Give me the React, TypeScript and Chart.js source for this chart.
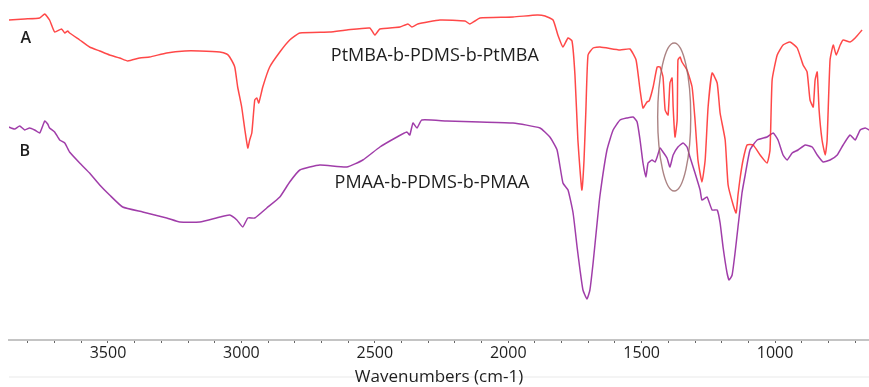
import React, { useEffect, useRef } from "react";
import { Chart, registerables } from "chart.js";

Chart.register(...registerables);

// Wavenumbers (cm-1) and transmittance (arbitrary units) for spectrum A
const waveA = [3872, 3812, 3756, 3737, 3719, 3700, 3674, 3662, 3651, 3644, 3606, 3569, 3531, 3494, 3456, 3426, 3381, 3344, 3280, 3212, 3156, 3081, 3055, 3044, 3025, 3014, 2999, 2987, 2976, 2969, 2961, 2950, 2942, 2935, 2920, 2894, 2856, 2819, 2781, 2669, 2605, 2519, 2500, 2481, 2406, 2376, 2361, 2339, 2256, 2162, 2144, 2125, 2106, 1982, 1892, 1862, 1832, 1814, 1795, 1776, 1761, 1750, 1739, 1731, 1724, 1716, 1709, 1701, 1682, 1656, 1581, 1544, 1521, 1506, 1495, 1480, 1472, 1457, 1442, 1431, 1420, 1412, 1401, 1394, 1386, 1382, 1375, 1367, 1364, 1356, 1349, 1330, 1311, 1300, 1289, 1274, 1262, 1251, 1236, 1217, 1206, 1187, 1176, 1157, 1146, 1139, 1131, 1120, 1105, 1082, 1056, 1030, 1019, 1011, 992, 970, 944, 917, 895, 880, 869, 857, 850, 842, 835, 824, 812, 805, 794, 782, 771, 756, 745, 719, 700, 674, 651];
const transA = [320, 321, 322, 326, 320, 308, 311, 307, 309, 307, 300, 293, 289, 285, 282, 279, 282, 283, 287, 289, 289, 288, 286, 283, 273, 253, 233, 210, 192, 200, 207, 240, 242, 237, 253, 273, 288, 300, 307, 308, 310, 312, 305, 311, 313, 316, 313, 316, 320, 319, 316, 319, 322, 323, 325, 324, 320, 305, 293, 302, 299, 265, 200, 170, 150, 180, 230, 285, 292, 293, 290, 291, 280, 250, 232, 238, 239, 253, 273, 273, 263, 230, 225, 257, 262, 233, 203, 220, 280, 283, 278, 270, 253, 220, 180, 158, 180, 233, 267, 257, 227, 200, 155, 135, 127, 145, 162, 180, 195, 195, 185, 177, 190, 260, 285, 295, 298, 292, 275, 268, 240, 233, 260, 268, 230, 200, 185, 200, 280, 295, 285, 295, 300, 298, 302, 310];

// Spectrum B
const waveB = [3872, 3850, 3831, 3812, 3794, 3775, 3756, 3737, 3726, 3719, 3700, 3681, 3662, 3644, 3606, 3569, 3531, 3494, 3445, 3370, 3280, 3231, 3156, 3081, 3044, 3017, 2995, 2976, 2950, 2905, 2856, 2819, 2781, 2706, 2605, 2545, 2481, 2417, 2380, 2369, 2357, 2342, 2324, 2230, 2106, 1982, 1881, 1844, 1817, 1795, 1776, 1757, 1742, 1731, 1720, 1705, 1694, 1682, 1667, 1656, 1630, 1607, 1581, 1555, 1532, 1517, 1506, 1495, 1484, 1476, 1461, 1450, 1442, 1431, 1420, 1405, 1394, 1382, 1364, 1345, 1330, 1319, 1300, 1281, 1274, 1255, 1236, 1217, 1206, 1195, 1180, 1172, 1161, 1150, 1139, 1124, 1112, 1094, 1067, 1030, 1007, 989, 970, 955, 936, 914, 887, 861, 842, 820, 794, 767, 745, 719, 700, 681, 662, 647];
const transB = [213, 211, 214, 210, 212, 210, 207, 219, 216, 212, 208, 200, 197, 188, 177, 167, 155, 145, 133, 128, 122, 118, 118, 123, 125, 120, 113, 122, 122, 132, 143, 158, 170, 175, 173, 180, 193, 203, 208, 205, 217, 212, 220, 219, 218, 217, 212, 203, 190, 157, 150, 127, 93, 70, 50, 41, 50, 77, 117, 145, 190, 210, 220, 222, 223, 218, 200, 177, 163, 177, 180, 178, 183, 192, 188, 182, 173, 185, 193, 197, 193, 183, 167, 150, 140, 143, 130, 130, 117, 93, 67, 60, 65, 87, 113, 147, 165, 190, 200, 203, 207, 200, 185, 180, 187, 190, 195, 193, 185, 178, 180, 185, 195, 205, 200, 210, 212, 210];

const xTickLabels = [3500, 3000, 2500, 2000, 1500, 1000];
const labelA = "A";
const labelB = "B";
const nameA = "PtMBA-b-PDMS-b-PtMBA";
const nameB = "PMAA-b-PDMS-b-PMAA";
const axisTitle = "Wavenumbers (cm-1)";
// annotation anchors in data units [wavenumber, value]
const posLabelA = [3808, 302];
const posLabelB = [3812, 189];
const posNameA = [2275, 284];
const posNameB = [2286, 157];
const ellipseCenter = [1378, 223];
const ellipseRadius = [62, 74];

const FONT = "'Open Sans', 'Segoe UI', sans-serif";

const baseline = {
  id: "baseline",
  beforeDraw(chart: any) {
    const { ctx, width } = chart;
    ctx.save();
    ctx.strokeStyle = "#f1f1f1";
    ctx.lineWidth = 1.5;
    ctx.beginPath();
    ctx.moveTo(9, 377);
    ctx.lineTo(width, 377);
    ctx.stroke();
    ctx.restore();
  },
};

const annotations = {
  id: "annotations",
  afterDatasetsDraw(chart: any) {
    const { ctx, scales } = chart;
    const xs = scales.x;
    const ys = scales.y;
    ctx.save();
    ctx.fillStyle = "#1e1e1e";
    ctx.textAlign = "center";
    ctx.textBaseline = "middle";
    const put = (t: string, p: number[]) =>
      ctx.fillText(t, xs.getPixelForValue(p[0]), ys.getPixelForValue(p[1]));
    ctx.font = `600 16px ${FONT}`;
    put(labelA, posLabelA);
    put(labelB, posLabelB);
    ctx.font = `18px ${FONT}`;
    put(nameA, posNameA);
    put(nameB, posNameB);
    const cx = xs.getPixelForValue(ellipseCenter[0]);
    const cy = ys.getPixelForValue(ellipseCenter[1]);
    const rx = Math.abs(xs.getPixelForValue(ellipseCenter[0] + ellipseRadius[0]) - cx);
    const ry = Math.abs(ys.getPixelForValue(ellipseCenter[1] + ellipseRadius[1]) - cy);
    ctx.beginPath();
    ctx.ellipse(cx, cy, rx, ry, 0, 0, Math.PI * 2);
    ctx.strokeStyle = "rgba(150,100,100,0.8)";
    ctx.lineWidth = 1.4;
    ctx.stroke();
    ctx.restore();
  },
};

export default function App() {
  const ref = useRef<HTMLCanvasElement>(null);
  useEffect(() => {
    document.body.style.margin = "0";
    const chart = new Chart(ref.current!, {
      type: "line",
      data: {
        datasets: [
          {
            label: "A",
            data: waveA.map((w, i) => ({ x: w, y: transA[i] })),
            borderColor: "rgba(255,40,40,0.85)",
            borderWidth: 1.5,
            pointRadius: 0,
            tension: 0.15,
          },
          {
            label: "B",
            data: waveB.map((w, i) => ({ x: w, y: transB[i] })),
            borderColor: "rgba(150,40,160,0.9)",
            borderWidth: 1.5,
            pointRadius: 0,
            tension: 0.15,
          },
        ],
      },
      options: {
        animation: false,
        responsive: false,
        maintainAspectRatio: false,
        layout: { padding: { left: 9, right: 0, top: 0, bottom: 0 } },
        plugins: { legend: { display: false }, tooltip: { enabled: false } },
        scales: {
          x: {
            type: "linear",
            reverse: true,
            min: 648,
            max: 3871,
            afterFit: (s: any) => {
              s.height = 47;
            },
            border: { display: true, color: "#c4c4c4", width: 2 },
            grid: {
              drawOnChartArea: false,
              drawTicks: true,
              tickLength: 3,
              tickColor: "#666",
            },
            ticks: {
              stepSize: 100,
              includeBounds: false,
              autoSkip: false,
              maxRotation: 0,
              padding: 1,
              color: "#1e1e1e",
              font: { family: FONT, size: 16 },
              callback: (v: any) => (xTickLabels.includes(Number(v)) ? String(v) : ""),
            },
            title: {
              display: true,
              text: axisTitle,
              color: "#1e1e1e",
              font: { family: FONT, size: 17 },
              padding: { top: 0, bottom: 0 },
            },
          },
          y: { display: false, min: 0, max: 340 },
        },
      },
      plugins: [baseline, annotations],
    });
    return () => chart.destroy();
  }, []);
  return (
    <div style={{ position: "absolute", left: 0, top: 0, width: 869, height: 387 }}>
      <canvas ref={ref} width={869} height={387} style={{ width: 869, height: 387 }} />
    </div>
  );
}
